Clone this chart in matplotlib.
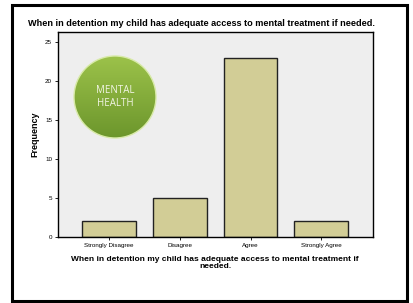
import matplotlib
matplotlib.use("Agg")
import matplotlib.pyplot as plt
import numpy as np
from matplotlib.patches import Rectangle, Circle
from matplotlib.colors import LinearSegmentedColormap

categories = ["Strongly Disagree", "Disagree", "Agree", "Strongly Agree"]
frequency = [2, 5, 23, 2]
yticks = [0, 5, 10, 15, 20, 25]
title = "When in detention my child has adequate access to mental treatment if needed."
xlabel = "When in detention my child has adequate access to mental treatment if\nneeded."

plt.rcParams["font.family"] = ["Liberation Sans", "DejaVu Sans"]

W, H = 413, 303
fig = plt.figure(figsize=(W / 100, H / 100), dpi=100)
fig.patch.set_facecolor("white")

# outer border
fig.add_artist(Rectangle((11.5 / W, 1 - 300.5 / H), (406.5 - 11.5) / W, (300.5 - 5) / H,
                         transform=fig.transFigure, fill=False, edgecolor="black", lw=2.2))

ax = fig.add_axes([58 / W, 1 - 237 / H, (373 - 58) / W, (237 - 32) / H])
ax.set_facecolor("#eeeeee")
x = np.arange(len(categories))
ax.bar(x, frequency, width=0.76, color="#d2cd96", edgecolor="#222222", linewidth=1.0)
ax.set_xlim(-0.72, 3.73)
ax.set_ylim(0, 26.3)
ax.set_yticks(yticks)
ax.set_yticklabels([str(v) for v in yticks], fontsize=4.5)
ax.set_xticks(x)
ax.set_xticklabels(categories, fontsize=4.5)
ax.tick_params(axis="both", length=2.5, width=0.6, pad=1.8)
for s in ax.spines.values():
    s.set_linewidth(1.0)
ax.set_ylabel("Frequency", fontsize=6.5, fontweight="bold", labelpad=4)

fig.text(202 / W, 1 - 24 / H, title, ha="center", va="center", fontsize=6.6, fontweight="bold")
fig.text(215 / W, 1 - 263 / H, xlabel, ha="center", va="center", fontsize=6.0,
         fontweight="bold", linespacing=1.0)

# circle logo with gradient
cx, cy, r = 115, 97, 41
lax = fig.add_axes([(cx - r - 2) / W, 1 - (cy + r + 2) / H, (2 * r + 4) / W, (2 * r + 4) / H])
lax.set_xlim(-r - 2, r + 2)
lax.set_ylim(-r - 2, r + 2)
lax.axis("off")
grad = np.linspace(0, 1, 256).reshape(-1, 1)
cmap = LinearSegmentedColormap.from_list("g", ["#9cc24a", "#6c962c"])
im = lax.imshow(grad, cmap=cmap, extent=[-r, r, -r, r], origin="upper", aspect="auto")
clip = Circle((0, 0), r, transform=lax.transData)
im.set_clip_path(clip)
lax.add_patch(Circle((0, 0), r, fill=False, edgecolor="#d8eaa8", lw=1.0))
lax.text(0, 0, "MENTAL\nHEALTH", ha="center", va="center", fontsize=7,
         color="#f2f5e6", family="Open Sans", linespacing=1.3)

fig.savefig("out.png", dpi=100)
